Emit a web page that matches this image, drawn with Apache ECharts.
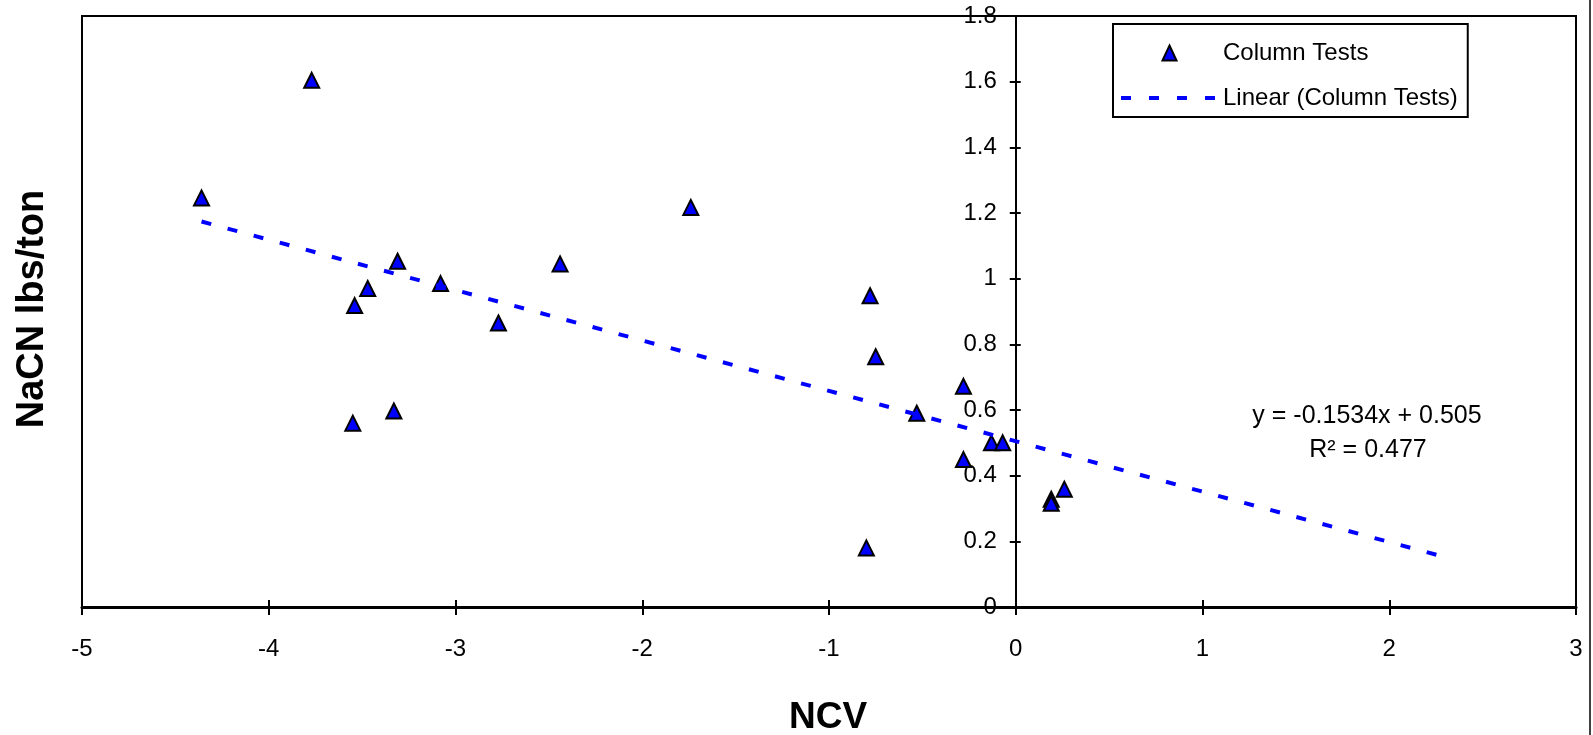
<!DOCTYPE html>
<html><head><meta charset="utf-8">
<script src="https://cdn.jsdelivr.net/npm/echarts@6/dist/echarts.min.js"></script>
<style>html,body{margin:0;padding:0;background:#fff}#c{width:1593px;height:735px}</style>
</head><body><div id="c"></div>
<script>
// ---- data ----
const ncv  = [-4.36,-3.77,-3.54,-3.47,-3.31,-3.55,-3.33,-3.08,-2.77,-2.44,-1.74,-0.78,-0.75,-0.80,-0.53,-0.28,-0.28,-0.13,-0.07,0.19,0.19,0.26];
const nacn = [1.246,1.604,0.918,0.970,1.053,0.560,0.597,0.985,0.865,1.045,1.217,0.948,0.762,0.180,0.590,0.672,0.449,0.500,0.500,0.328,0.316,0.359];
const trendX = [-4.36, 2.26];
const trendY = [1.174, 0.158];
const xRange = [-5, 3, 1];
const yRange = [0, 1.8, 0.2];
const seriesNames = ['Column Tests', 'Linear (Column Tests)'];
const axisTitles = ['NCV', 'NaCN lbs/ton'];
const eqText = 'y = -0.1534x + 0.505';
const r2Text = 'R\u00B2 = 0.477';

const FF = "'Liberation Sans', Arial, sans-serif";
const W = 1593, H = 735;
const G = {left:82, right:17, top:16, bottom:128};
const gridW = W - G.left - G.right;
// y axis crosses the x axis at x = 0
const yOffset = -gridW * (0 - xRange[0]) / (xRange[1] - xRange[0]);
const TRI = 'path://M7.5,0L15,16L0,16Z';

const chart = echarts.init(document.getElementById('c'));
const tickStyle = {color:'#000', width:2};

chart.setOption({
  animation: false,
  backgroundColor: '#fff',
  grid: {left:G.left, right:G.right, top:G.top, bottom:G.bottom, show:true, borderColor:'#000', borderWidth:2, backgroundColor:'transparent', outerBoundsMode:'none'},
  xAxis: [
    {type:'value', min:xRange[0], max:xRange[1], interval:xRange[2], position:'bottom',
     axisLine:{onZero:false, lineStyle:{color:'#000', width:3}},
     axisTick:{show:true, inside:false, length:8, lineStyle:tickStyle},
     axisLabel:{margin:30, fontSize:24, color:'#000', fontFamily:FF, showMinLabel:true, showMaxLabel:true},
     splitLine:{show:false}},
    {type:'value', min:xRange[0], max:xRange[1], interval:xRange[2], position:'bottom',
     axisLine:{show:false, onZero:false},
     axisTick:{show:true, inside:true, length:7, lineStyle:tickStyle},
     axisLabel:{show:false}, splitLine:{show:false}}
  ],
  yAxis: [
    {type:'value', min:yRange[0], max:yRange[1], interval:yRange[2], position:'left', offset:yOffset,
     axisLine:{show:true, onZero:false, lineStyle:{color:'#000', width:2}},
     axisTick:{show:true, inside:false, length:6, lineStyle:tickStyle},
     axisLabel:{margin:19, fontSize:24, color:'#000', fontFamily:FF, showMinLabel:true, showMaxLabel:true},
     splitLine:{show:false}},
    {type:'value', min:yRange[0], max:yRange[1], interval:yRange[2], position:'left', offset:yOffset,
     axisLine:{show:false, onZero:false},
     axisTick:{show:true, inside:true, length:5, lineStyle:tickStyle},
     axisLabel:{show:false}, splitLine:{show:false}}
  ],
  legend: {
    show:true, orient:'vertical', left:1113, top:24, padding:[17,10,7,6], itemGap:21,
    itemWidth:97, itemHeight:15, backgroundColor:'#fff', borderColor:'#000', borderWidth:2, borderRadius:0,
    selectedMode:false, symbolKeepAspect:true,
    textStyle:{fontSize:24, color:'#000', fontFamily:FF},
    data:[
      {name:seriesNames[0], icon:TRI, itemStyle:{color:'#0000ff', borderColor:'#000', borderWidth:2}},
      {name:seriesNames[1], itemStyle:{color:'rgba(0,0,0,0)', borderColor:'rgba(0,0,0,0)', borderWidth:0, opacity:0},
       lineStyle:{color:'#0000ff', width:4, type:[10,18], cap:'butt', opacity:1}}
    ]
  },
  series: [
    {name:seriesNames[0], type:'scatter', xAxisIndex:0, yAxisIndex:0,
     data: ncv.map((x,i)=>[x, nacn[i]]),
     symbol:'triangle', symbolSize:15,
     itemStyle:{color:'#0000ff', borderColor:'#000', borderWidth:2, opacity:1},
     z:2},
    {name:seriesNames[1], type:'line', xAxisIndex:0, yAxisIndex:0,
     data: trendX.map((x,i)=>[x, trendY[i]]),
     symbol:'none', showSymbol:false, silent:true,
     lineStyle:{color:'#0000ff', width:4, type:[10,17], cap:'butt'},
     itemStyle:{color:'#0000ff'},
     z:3}
  ],
  graphic: [
    {type:'text', x:33, y:309, rotation:Math.PI/2,
     style:{text:axisTitles[1], font:"bold 38px 'Liberation Sans', Arial, sans-serif", fill:'#000', align:'center', verticalAlign:'middle'}},
    {type:'text', x:828, y:718,
     style:{text:axisTitles[0], font:"bold 37px 'Liberation Sans', Arial, sans-serif", fill:'#000', align:'center', verticalAlign:'middle'}},
    {type:'text', x:1367, y:416,
     style:{text:eqText, font:"25px 'Liberation Sans', Arial, sans-serif", fill:'#000', align:'center', verticalAlign:'middle'}},
    {type:'text', x:1368, y:450,
     style:{text:r2Text, font:"25px 'Liberation Sans', Arial, sans-serif", fill:'#000', align:'center', verticalAlign:'middle'}},
    {type:'line', shape:{x1:1590, y1:0, x2:1590, y2:H}, style:{stroke:'#000', lineWidth:1.5}}
  ]
});
</script></body></html>
